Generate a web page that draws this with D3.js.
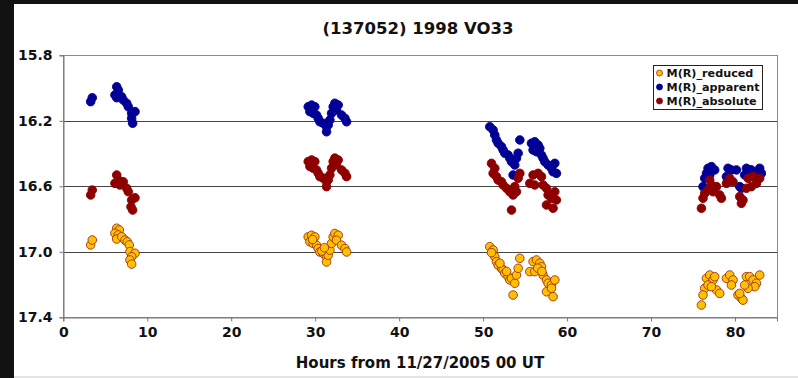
<!DOCTYPE html>
<html>
<head>
<meta charset="utf-8">
<script src="https://cdn.jsdelivr.net/npm/d3@7"></script>
<style>
  html, body { margin: 0; padding: 0; background: #111; }
  svg { display: block; font-family: "DejaVu Sans", Verdana, sans-serif; font-weight: bold; }
</style>
</head>
<body>
<div id="chart"></div>
<script>
// title and axis text
var titleText = '(137052) 1998 VO33';
var xLabel = 'Hours from 11/27/2005 00 UT';
var xTicks = [0, 10, 20, 30, 40, 50, 60, 70, 80];
var yTicks = [15.8, 16.2, 16.6, 17.0, 17.4];
var seriesNames = ['M(R)_reduced', 'M(R)_apparent', 'M(R)_absolute'];

// [hours, magnitude]
var reducedData = [
  [3.26,16.958],[3.45,16.928],[6.36,16.856],[6.67,16.867],[6.15,16.887],[6.55,16.897],[6.36,16.922],
  [6.95,16.908],[7.35,16.928],[7.62,16.939],[7.86,16.958],[7.94,16.999],[8.54,17.009],[8.14,17.030],
  [7.94,17.050],[8.14,17.075],
  [29.17,16.909],[29.57,16.899],[29.96,16.909],[29.37,16.939],[29.76,16.949],[30.16,16.960],[30.36,16.980],
  [30.56,17.001],[30.95,17.010],[31.35,17.031],[31.35,17.062],[31.55,17.021],[31.75,16.990],[31.95,16.949],
  [32.14,16.909],[32.34,16.888],[32.74,16.899],[32.54,16.929],[33.14,16.960],[33.54,16.980],[33.74,17.001],
  [29.7,16.925],[30.8,16.995],[31.1,16.975],
  [50.79,16.969],[51.19,16.989],[51.39,17.030],[51.59,17.060],[51.79,17.081],[52.19,17.101],[52.38,17.111],
  [52.58,17.131],[52.98,17.152],[53.18,17.172],[53.38,17.162],[53.77,17.192],[53.97,17.142],[54.17,17.101],
  [54.37,17.040],[53.57,17.264],[51.0,17.005],[52.0,17.070],[52.8,17.120],
  [55.95,17.060],[56.36,17.050],[56.75,17.070],[55.56,17.121],[56.15,17.121],[56.95,17.091],[57.14,17.142],
  [57.55,17.172],[57.74,17.192],[58.14,17.203],[58.54,17.172],[57.55,17.244],[58.33,17.274],[58.14,17.223],
  [56.5,17.100],[57.0,17.120],
  [76.6,17.162],[76.99,17.142],[77.38,17.172],[77.58,17.152],[76.39,17.223],[76.79,17.203],[76.19,17.264],
  [76.0,17.325],[77.79,17.233],[78.18,17.254],[77.19,17.213],[78.98,17.162],[79.37,17.142],[79.76,17.172],
  [79.57,17.203],[80.36,17.264],[80.76,17.284],[80.95,17.295],[80.56,17.254],[81.36,17.152],[81.75,17.152],
  [82.14,17.172],[82.55,17.192],[82.94,17.142],[82.35,17.213],[81.55,17.223],[81.15,17.203]
];

var apparentData = [
  [3.26,16.083],[3.45,16.059],[6.36,15.992],[6.55,16.012],[6.15,16.042],[6.36,16.059],[6.95,16.053],
  [7.14,16.073],[7.55,16.093],[7.74,16.114],[8.54,16.144],[8.14,16.154],[8.14,16.185],[8.26,16.215],
  [29.17,16.114],[29.57,16.104],[29.96,16.114],[29.37,16.144],[29.76,16.154],[30.16,16.165],[30.36,16.185],
  [30.56,16.206],[30.95,16.215],[31.35,16.236],[31.35,16.267],[31.55,16.226],[31.75,16.195],[31.95,16.154],
  [32.14,16.114],[32.34,16.093],[32.74,16.104],[32.54,16.134],[33.14,16.165],[33.54,16.185],[33.74,16.206],
  [50.79,16.236],[51.19,16.256],[51.39,16.287],[51.59,16.317],[51.79,16.337],[52.19,16.358],[52.38,16.378],
  [52.58,16.398],[52.98,16.409],[53.18,16.429],[53.38,16.450],[53.77,16.470],[53.97,16.429],[54.17,16.398],
  [54.37,16.317],[53.57,16.531],
  [55.76,16.337],[56.15,16.328],[56.55,16.348],[55.95,16.378],[56.36,16.389],[56.75,16.368],[56.95,16.409],
  [57.14,16.429],[57.35,16.450],[57.74,16.470],[58.14,16.490],[58.54,16.460],[58.33,16.511],[58.73,16.521],
  [76.79,16.490],[77.19,16.480],[77.58,16.500],[76.6,16.521],[76.39,16.551],[76.19,16.602],[76.99,16.531],
  [79.17,16.490],[79.57,16.500],[80.17,16.500],[79.37,16.562],[78.98,16.541],[80.76,16.612],[80.56,16.602],
  [81.36,16.490],[81.95,16.500],[82.94,16.490],[82.55,16.531],[83.14,16.521],[81.15,16.531],[81.75,16.500]
];

var absoluteData = [
  [3.26,16.653],[3.45,16.623],[6.36,16.531],[6.55,16.561],[6.15,16.582],[6.75,16.592],[7.14,16.572],
  [7.55,16.612],[7.74,16.633],[8.54,16.670],[8.14,16.684],[8.06,16.725],[8.26,16.745],
  [29.17,16.449],[29.57,16.439],[29.96,16.449],[29.37,16.479],[29.76,16.489],[30.16,16.500],[30.36,16.520],
  [30.56,16.541],[30.95,16.550],[31.35,16.571],[31.35,16.602],[31.55,16.561],[31.75,16.530],[31.95,16.489],
  [32.14,16.449],[32.34,16.428],[32.74,16.439],[32.54,16.469],[33.14,16.500],[33.54,16.520],[33.74,16.541],
  [51.0,16.460],[51.39,16.490],[51.19,16.521],[51.59,16.541],[51.79,16.562],[52.19,16.572],[52.38,16.592],
  [52.79,16.612],[53.18,16.633],[53.57,16.653],[53.97,16.633],[53.77,16.602],[54.37,16.521],[54.17,16.551],
  [53.38,16.745],
  [55.95,16.531],[56.55,16.521],[56.95,16.541],[55.56,16.582],[56.15,16.592],[57.14,16.592],[57.55,16.612],
  [57.74,16.653],[58.14,16.673],[58.54,16.633],[57.55,16.714],[58.33,16.734],[58.73,16.684],
  [76.0,16.734],[76.19,16.673],[76.99,16.562],[77.19,16.592],[76.79,16.623],[77.38,16.633],[77.79,16.602],
  [78.18,16.653],[78.38,16.673],[79.37,16.551],[79.76,16.572],[78.98,16.582],[80.56,16.663],[80.76,16.704],
  [80.95,16.684],[81.55,16.551],[82.14,16.541],[82.55,16.582],[81.95,16.602],[82.94,16.551],[81.36,16.612],
  [76.39,16.643]
];

var W = 798, H = 378;
var plot = {left: 63.3, right: 777, top: 55.3, bottom: 317.3};

var svg = d3.select('#chart').append('svg')
  .attr('width', W)
  .attr('height', H);

// dark frame round the white sheet
svg.append('rect').attr('width', W).attr('height', H).attr('fill', '#121212');
svg.append('rect').attr('x', 14).attr('y', 4).attr('width', W - 14).attr('height', H - 6).attr('fill', '#fff');
svg.append('rect').attr('x', 14).attr('y', H - 2).attr('width', W - 14).attr('height', 2).attr('fill', '#e4e4e4');

var x = d3.scaleLinear().domain([0, 85]).range([plot.left, plot.right]);
var y = d3.scaleLinear().domain([15.8, 17.4]).range([plot.top, plot.bottom]);

// gridlines
svg.append('g')
  .selectAll('line')
  .data(yTicks)
  .enter().append('line')
  .attr('x1', plot.left).attr('x2', plot.right)
  .attr('y1', function(d) { return Math.round(y(d)) + 0.5; })
  .attr('y2', function(d) { return Math.round(y(d)) + 0.5; })
  .attr('stroke', '#444')
  .attr('stroke-width', 1);

// plot frame
svg.append('rect')
  .attr('x', Math.round(plot.left) + 0.5).attr('y', Math.round(plot.top) + 0.5)
  .attr('width', Math.round(plot.right - plot.left)).attr('height', Math.round(plot.bottom - plot.top))
  .attr('fill', 'none').attr('stroke', '#8a8a8a');

// axes
var xAxis = svg.append('g')
  .attr('transform', 'translate(0,' + (Math.round(plot.bottom) + 0.5) + ')')
  .call(d3.axisBottom(x).tickValues(xTicks).tickSize(4).tickPadding(6).tickFormat(d3.format('d')));
var yAxis = svg.append('g')
  .attr('transform', 'translate(' + (Math.round(plot.left) + 0.5) + ',0)')
  .call(d3.axisLeft(y).tickValues(yTicks).tickSize(4).tickPadding(7).tickFormat(d3.format('.1f')));

[xAxis, yAxis].forEach(function(a) {
  a.select('.domain').attr('stroke', '#777');
  a.selectAll('.tick line').attr('stroke', '#777');
  a.selectAll('text')
    .attr('fill', '#111')
    .style('font-family', '"DejaVu Sans", Verdana, sans-serif')
    .style('font-weight', 'bold')
    .style('font-size', '14px');
});

// title
svg.append('text')
  .attr('x', 418).attr('y', 34)
  .attr('text-anchor', 'middle')
  .style('font-size', '16.5px')
  .attr('fill', '#111')
  .text(titleText);

// x axis title
svg.append('text')
  .attr('x', 420).attr('y', 368)
  .attr('text-anchor', 'middle')
  .style('font-size', '15px')
  .attr('fill', '#111')
  .text(xLabel);

// series, drawn in Excel order so absolute ends on top
var series = [
  {name: seriesNames[0], data: reducedData, fill: '#ffc000', stroke: '#a0301a'},
  {name: seriesNames[1], data: apparentData, fill: '#000096', stroke: '#000096'},
  {name: seriesNames[2], data: absoluteData, fill: '#8e0000', stroke: '#8e0000'}
];

series.forEach(function(s) {
  svg.append('g')
    .selectAll('circle')
    .data(s.data)
    .enter().append('circle')
    .attr('cx', function(d) { return x(d[0]); })
    .attr('cy', function(d) { return y(d[1]); })
    .attr('r', 4.3)
    .attr('fill', s.fill)
    .attr('stroke', s.stroke)
    .attr('stroke-width', 0.9);
});

// legend
var legend = svg.append('g').attr('transform', 'translate(653.5,65.5)');
legend.append('rect')
  .attr('width', 109).attr('height', 44)
  .attr('fill', '#fff').attr('stroke', '#222');
series.forEach(function(s, i) {
  var row = legend.append('g').attr('transform', 'translate(0,' + (7.5 + i * 14) + ')');
  row.append('circle')
    .attr('cx', 6).attr('cy', 0).attr('r', 3)
    .attr('fill', s.fill).attr('stroke', s.stroke).attr('stroke-width', 0.8);
  row.append('text')
    .attr('x', 13).attr('y', 4)
    .style('font-size', '11.2px')
    .attr('fill', '#111')
    .text(s.name);
});
</script>
</body>
</html>
